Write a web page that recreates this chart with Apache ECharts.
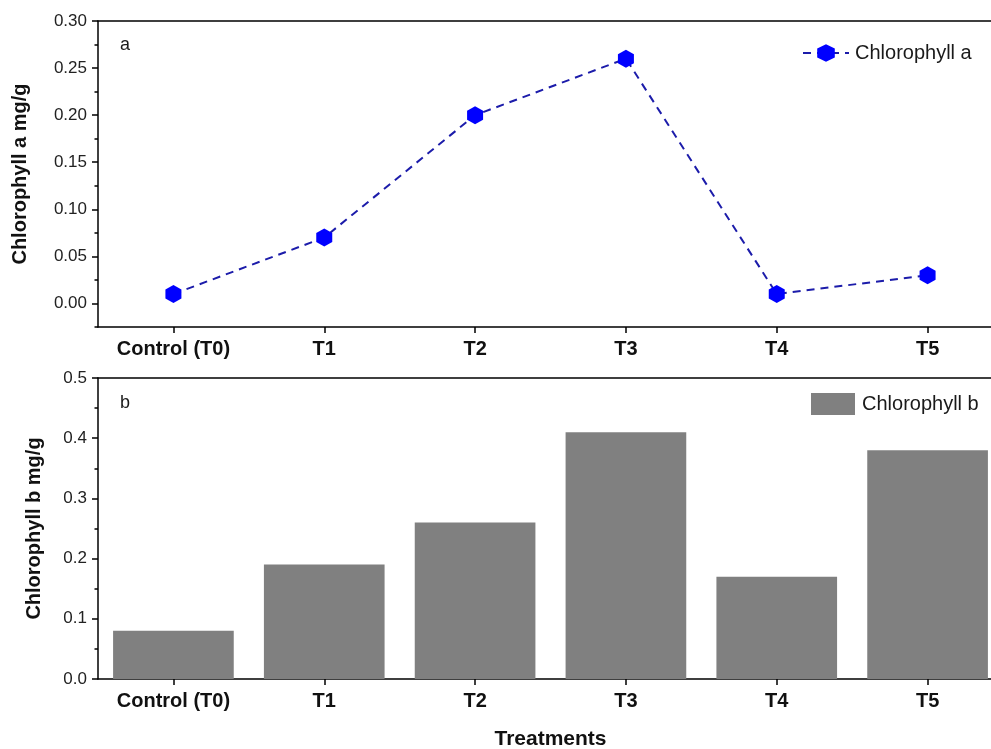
<!DOCTYPE html>
<html>
<head>
<meta charset="utf-8">
<script src="https://cdn.jsdelivr.net/npm/echarts@6/dist/echarts.min.js"></script>
<style>
html,body{margin:0;padding:0;background:#fff;}
#c{width:991px;height:749px;}
</style>
</head>
<body>
<div id="c"></div>
<script>
const categories = ['Control (T0)', 'T1', 'T2', 'T3', 'T4', 'T5'];
const chlorophyllA = [0.01, 0.07, 0.20, 0.26, 0.01, 0.03];
const chlorophyllB = [0.08, 0.19, 0.26, 0.41, 0.17, 0.38];
const aMajorTicks = [0, 0.05, 0.10, 0.15, 0.20, 0.25, 0.30];
const aMinorTicks = [-0.025, 0.025, 0.075, 0.125, 0.175, 0.225, 0.275];

const FONT = '"Liberation Sans", Arial, sans-serif';
const hex = 'path://M0,-10 L8.66,-5 L8.66,5 L0,10 L-8.66,5 L-8.66,-5 Z';
const axisLine = {show: true, onZero: false, lineStyle: {color: '#000', width: 1.5}};

const topBorderAxis = (gi) => ({
  type: 'category', gridIndex: gi, data: categories, position: 'top',
  axisLine: axisLine, axisTick: {show: false}, axisLabel: {show: false}, splitLine: {show: false}
});

const chart = echarts.init(document.getElementById('c'), null, {renderer: 'canvas'});
chart.setOption({
  animation: false,
  backgroundColor: '#fff',
  textStyle: {fontFamily: FONT},
  grid: [
    {left: 98, top: 21, width: 905, height: 306, outerBoundsMode: 'none', containLabel: false, show: false},
    {left: 98, top: 378, width: 905, height: 301, outerBoundsMode: 'none', containLabel: false, show: false}
  ],
  legend: [
    {
      data: ['Chlorophyll a'], left: 797, top: 38, itemWidth: 46, itemHeight: 22, itemGap: 0,
      textStyle: {fontSize: 20, color: '#1a1a1a', fontFamily: FONT, padding: [0, 0, 0, 1]}
    },
    {
      data: [{name: 'Chlorophyll b', icon: 'rect'}], left: 806, top: 388, itemWidth: 44, itemHeight: 22,
      textStyle: {fontSize: 20, color: '#1a1a1a', fontFamily: FONT, padding: [0, 0, 0, 2]}
    }
  ],
  xAxis: [
    {
      type: 'category', gridIndex: 0, data: categories, boundaryGap: true,
      axisLine: axisLine,
      axisTick: {show: true, alignWithLabel: true, length: 6, lineStyle: {color: '#000', width: 1.5}},
      axisLabel: {fontSize: 20, fontWeight: 'bold', color: '#111', margin: 12, fontFamily: FONT, interval: 0},
      splitLine: {show: false}
    },
    {
      type: 'category', gridIndex: 1, data: categories, boundaryGap: true,
      axisLine: axisLine,
      axisTick: {show: true, alignWithLabel: true, length: 6, lineStyle: {color: '#000', width: 1.5}},
      axisLabel: {fontSize: 20, fontWeight: 'bold', color: '#111', margin: 12, fontFamily: FONT, interval: 0},
      splitLine: {show: false},
      name: 'Treatments', nameLocation: 'middle', nameGap: 50,
      nameTextStyle: {fontSize: 21, fontWeight: 'bold', color: '#111', fontFamily: FONT}
    },
    topBorderAxis(0),
    topBorderAxis(1)
  ],
  yAxis: [
    {
      type: 'value', gridIndex: 0, min: -0.025, max: 0.30,
      axisLine: axisLine,
      axisTick: {show: true, length: 6, customValues: aMajorTicks, lineStyle: {color: '#000', width: 1.5}},
      axisLabel: {customValues: aMajorTicks, fontSize: 17, color: '#222', margin: 11, fontFamily: FONT,
        formatter: v => v.toFixed(2)},
      splitLine: {show: false},
      name: 'Chlorophyll a mg/g', nameLocation: 'middle', nameGap: 68,
      nameTextStyle: {fontSize: 20, fontWeight: 'bold', color: '#111', fontFamily: FONT}
    },
    {
      type: 'value', gridIndex: 0, min: -0.025, max: 0.30, position: 'left',
      axisLine: {show: false},
      axisTick: {show: true, length: 3.5, customValues: aMinorTicks, lineStyle: {color: '#000', width: 1.5}},
      axisLabel: {show: false},
      splitLine: {show: false}
    },
    {
      type: 'value', gridIndex: 1, min: 0, max: 0.5, interval: 0.1,
      axisLine: axisLine,
      axisTick: {show: true, length: 6, lineStyle: {color: '#000', width: 1.5}},
      minorTick: {show: true, splitNumber: 2, length: 3.5, lineStyle: {color: '#000', width: 1.5}},
      axisLabel: {fontSize: 17, color: '#222', margin: 11, fontFamily: FONT, formatter: v => v.toFixed(1)},
      splitLine: {show: false},
      name: 'Chlorophyll b mg/g', nameLocation: 'middle', nameGap: 54,
      nameTextStyle: {fontSize: 20, fontWeight: 'bold', color: '#111', fontFamily: FONT}
    }
  ],
  graphic: [
    {type: 'text', left: 120, top: 36, style: {text: 'a', fontSize: 18, fill: '#1a1a1a', fontFamily: FONT}},
    {type: 'text', left: 120, top: 394, style: {text: 'b', fontSize: 18, fill: '#1a1a1a', fontFamily: FONT}}
  ],
  series: [
    {
      name: 'Chlorophyll a', type: 'line', xAxisIndex: 0, yAxisIndex: 0, data: chlorophyllA,
      symbol: hex, symbolSize: [16, 18],
      itemStyle: {color: '#0000ff'},
      lineStyle: {color: '#1c1caa', width: 2, type: [8, 6]},
      z: 3
    },
    {
      name: 'Chlorophyll b', type: 'bar', xAxisIndex: 1, yAxisIndex: 2, data: chlorophyllB,
      barCategoryGap: '20%',
      itemStyle: {color: '#808080'}
    }
  ]
});
</script>
</body>
</html>
